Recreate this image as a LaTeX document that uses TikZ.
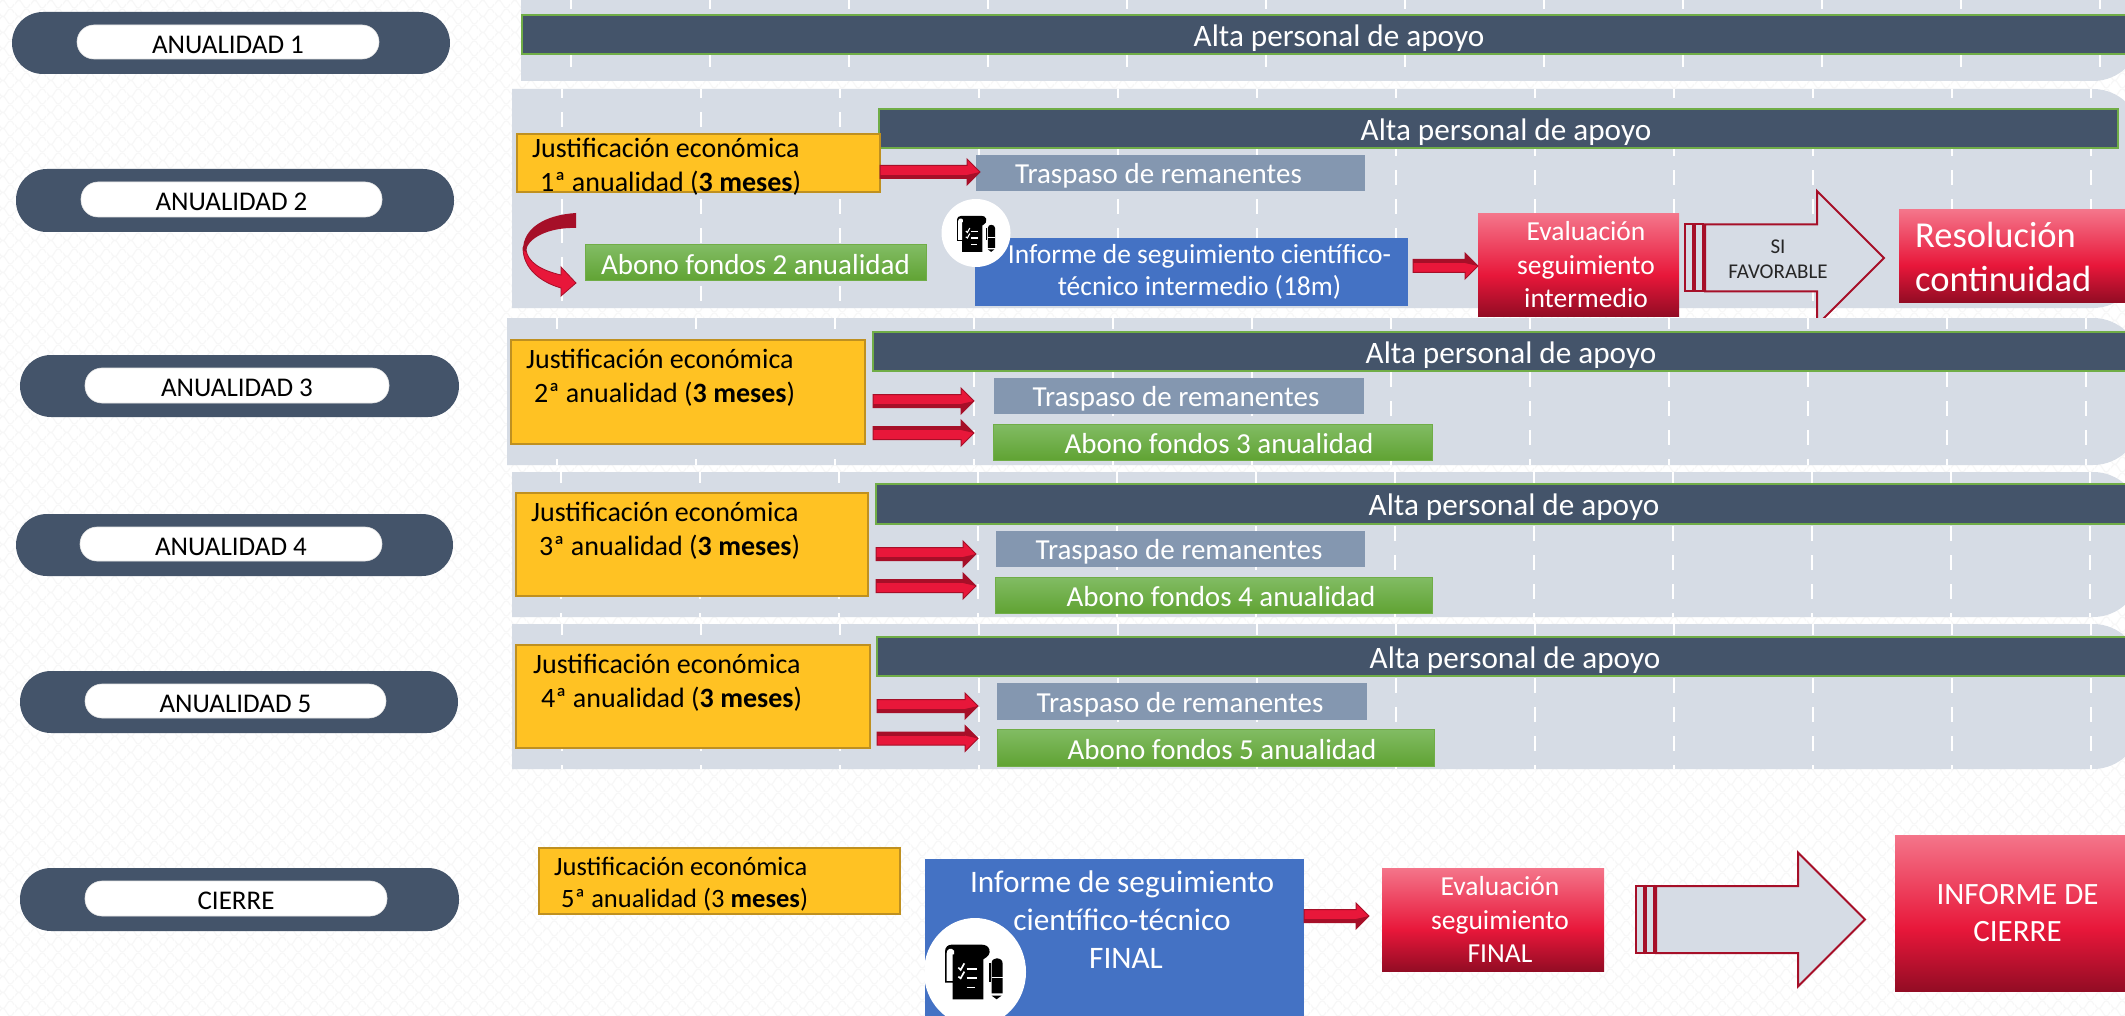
\documentclass[tikz,border=0pt]{standalone}
\usepackage{fontspec}
\setmainfont{Carlito}
\usetikzlibrary{calc,patterns}
\definecolor{slate}{HTML}{44546A}
\definecolor{bandc}{HTML}{D6DCE5}
\definecolor{gborder}{HTML}{70AD47}
\definecolor{ylw}{HTML}{FFC223}
\definecolor{ylwb}{HTML}{BF9020}
\definecolor{trasp}{HTML}{8497B0}
\definecolor{blu}{HTML}{4472C4}
\definecolor{rtop}{HTML}{F4758A}
\definecolor{rmid}{HTML}{E8173A}
\definecolor{rbot}{HTML}{930C24}
\definecolor{rdark}{HTML}{A60F28}
\definecolor{gtop}{HTML}{82BC64}
\definecolor{gbot}{HTML}{60A333}
\definecolor{texc}{HTML}{F7F7F7}
\pgfdeclareverticalshading{redgrad}{100bp}{color(0bp)=(rbot);color(25bp)=(rbot);color(45bp)=(rmid);color(75bp)=(rtop);color(100bp)=(rtop)}
\pgfdeclareverticalshading{greengrad}{100bp}{color(0bp)=(gbot);color(25bp)=(gbot);color(75bp)=(gtop);color(100bp)=(gtop)}
\newcommand\qp[2]{\pgfqpoint{#1pt}{#2pt}}
\pgfdeclarepatternformonly{scallop}{\qp{0}{0}}{\qp{16}{16}}{\qp{16}{16}}{%
  \pgfsetlinewidth{1.2pt}%
  \pgfpathmoveto{\qp{0}{4}}%
  \pgfpathcurveto{\qp{2}{7.1}}{\qp{2.5}{8}}{\qp{4}{8}}%
  \pgfpathcurveto{\qp{5.5}{8}}{\qp{6}{7.1}}{\qp{8}{4}}%
  \pgfpathcurveto{\qp{10}{.9}}{\qp{10.5}{0}}{\qp{12}{0}}%
  \pgfpathcurveto{\qp{13.5}{0}}{\qp{14}{.9}}{\qp{16}{4}}%
  \pgfpathmoveto{\qp{0}{12}}%
  \pgfpathcurveto{\qp{2}{8.9}}{\qp{2.5}{8}}{\qp{4}{8}}%
  \pgfpathcurveto{\qp{5.5}{8}}{\qp{6}{8.9}}{\qp{8}{12}}%
  \pgfpathcurveto{\qp{10}{15.1}}{\qp{10.5}{16}}{\qp{12}{16}}%
  \pgfpathcurveto{\qp{13.5}{16}}{\qp{14}{15.1}}{\qp{16}{12}}%
  \pgfusepath{stroke}%
}
\tikzset{
  x=1pt,y=-1pt,
  pillout/.style={fill=slate,rounded corners=31pt},
  pillin/.style={fill=white,draw=black!10,line width=.6pt,rounded corners=17pt,text=black,font={\fontsize{27}{30}\selectfont},execute at begin node={\rule{0pt}{22.5pt}}},
  altabar/.style={fill=slate,draw=gborder,line width=1.5pt,text=white,font={\fontsize{31.2}{36}\selectfont},execute at begin node={\rule{0pt}{29pt}}},
  yellowbox/.style={fill=ylw,draw=ylwb,line width=2pt},
  yellowtxt/.style={align=left,anchor=west,inner sep=0pt,text=black,font={\fontsize{28}{34}\selectfont}},
  traspbox/.style={fill=trasp,text=white,font={\fontsize{29}{34}\selectfont},execute at begin node={\rule{0pt}{26.5pt}}},
  greenbox/.style={shading=greengrad,draw=gborder,line width=1pt,text=white,font={\fontsize{29}{34}\selectfont},execute at begin node={\rule{0pt}{24pt}}},
  bluebox/.style={fill=blu,text=white,align=center,font={\fontsize{27.5}{32}\selectfont}},
  redbox/.style={shading=redgrad,text=white,align=center,font={\fontsize{27.5}{33.5}\selectfont}},
  dashw/.style={draw=white,line width=1.6pt,dash pattern=on 15pt off 14pt},
  redarrow/.style={fill=rmid,draw=rdark,line width=1pt,line join=miter},
  redstripe/.style={fill=rdark},
  stripearrow/.style={fill=bandc,draw=rdark,line width=2pt,line join=miter}
}
\newcommand\bx[7]{\node[#1,inner sep=0pt,outer sep=0pt,minimum width={(#5-#3)*1pt},minimum height={(#6-#4)*1pt}] (#2) at ({(#3+#5)/2},{(#4+#6)/2}) {#7};}
\newcommand\bandp[3]{\fill[bandc] (#1,#2) [rounded corners=48pt] -- (2141,#2) -- (2141,#3) [sharp corners] -- (#1,#3) -- cycle;}
\newcommand\banddash[4]{\foreach \k in {0,...,11}{\draw[dashw,dash phase=#4pt] ({#1+139*\k},#2) -- ({#1+139*\k},#3);}}
% block arrow: start anchor, offset, end anchor, offset, strip side
\newcommand\blockarr[5]{%
  \coordinate (ars) at ($(#1)+(#2)$);
  \coordinate (are0) at ($(#3)+(#4)$);
  \coordinate (are) at (are0 |- ars);
  \draw[redarrow] ([yshift=6.5pt]ars) -- ([yshift=6.5pt,xshift=-13pt]are) -- ([yshift=13pt,xshift=-13pt]are) -- (are) -- ([yshift=-13pt,xshift=-13pt]are) -- ([yshift=-6.5pt,xshift=-13pt]are) -- ([yshift=-6.5pt]ars) -- cycle;
  \fill[redstripe] ([yshift=#5*6.5pt]ars) rectangle ([yshift=#5*3pt,xshift=-13pt]are);
  \fill[redstripe] (are) -- ([yshift=#5*13pt,xshift=-13pt]are) -- ([yshift=#5*3pt,xshift=-13pt]are) -- cycle;
}
% striped block arrow
\newcommand\stripearr[5]{%
  \coordinate (ars) at ($(#1)+(#2)$);
  \coordinate (are0) at ($(#3)+(#4)$);
  \coordinate (are) at (are0 |- ars);
  \draw[stripearrow,fill=#5] ([yshift=33.5pt]ars) rectangle ([yshift=-33.5pt,xshift=8pt]ars);
  \draw[stripearrow,fill=#5] ([yshift=33.5pt,xshift=10pt]ars) rectangle ([yshift=-33.5pt,xshift=18pt]ars);
  \draw[stripearrow,fill=#5] ([yshift=33.5pt,xshift=20pt]ars) -- ([yshift=33.5pt,xshift=-67pt]are) -- ([yshift=67pt,xshift=-67pt]are) -- (are) -- ([yshift=-67pt,xshift=-67pt]are) -- ([yshift=-33.5pt,xshift=-67pt]are) -- ([yshift=-33.5pt,xshift=20pt]ars) -- cycle;
}
% document icon: x, y, scale
\newcommand\docicon[3]{%
\begin{scope}[shift={(#1,#2)},scale=#3]
  \fill[black] (23,163) -- (115,163) -- (115,43) .. controls (130,35) and (137,25) .. (133,13) .. controls (130,3) and (120,-1) .. (110,-1) -- (20,-1) .. controls (10,-1) and (0,5) .. (0,20) -- (0,113) -- (23,113) -- cycle;
  \fill[white] (5,108) -- (5,25) .. controls (5,10) and (20,7) .. (27,17) -- (27,28) -- (23,28) -- (23,108) -- cycle;
  \draw[white,line width={#3*5pt}] (40,68) -- (47,75) -- (58,55);
  \draw[white,line width={#3*5pt}] (40,95) -- (47,100) -- (58,80);
  \draw[white,line width={#3*5pt}] (65,72) -- (95,72) (65,100) -- (95,100) (65,128) -- (90,128);
  \fill[black] (140,145) -- (140,55) .. controls (140,45) and (147,40) .. (155,40) .. controls (165,40) and (173,45) .. (173,55) -- (173,145) -- cycle;
  \fill[black] (133,55) rectangle (137,110);
  \draw[white,line width={#3*4pt}] (140,98) -- (173,98);
  \fill[black] (140,152) -- (170,152) -- (155,163) -- cycle;
\end{scope}}
\begin{document}
\begin{tikzpicture}
\useasboundingbox (0,0) rectangle (2125,1016);
\clip (0,0) rectangle (2125,1016);
\fill[white] (0,0) rectangle (2125,1016);
% background texture
\fill[pattern=scallop,pattern color=texc] (0,0) rectangle (2125,1016);
% pills
\bx{pillout}{p1}{12}{12}{450}{74}{}
\bx{pillin}{p1i}{77}{25}{379}{59}{ANUALIDAD 1}
\bx{pillout}{p2}{16}{169}{454}{232}{}
\bx{pillin}{p2i}{81}{182}{382}{217}{ANUALIDAD 2}
\bx{pillout}{p3}{20}{355}{459}{417}{}
\bx{pillin}{p3i}{85}{368}{389}{403}{ANUALIDAD 3}
\bx{pillout}{p4}{16}{514}{453}{576}{}
\bx{pillin}{p4i}{80}{527}{382}{561}{ANUALIDAD 4}
\bx{pillout}{p5}{20}{671}{458}{733}{}
\bx{pillin}{p5i}{85}{684}{386}{718}{ANUALIDAD 5}
\bx{pillout}{p6}{20}{868}{459}{931}{}
\bx{pillin}{p6i}{85}{881}{387}{916}{CIERRE}
% bands 1 and 2
\bandp{521}{-60}{81}
\banddash{571}{0}{81}{6}
\bandp{512}{89}{308}
\banddash{562}{89}{308}{6}
% row 1
\bx{altabar}{a1}{522}{15}{2156}{54}{Alta personal de apoyo}
% row 2
\bx{altabar}{a2}{879}{109}{2118}{148}{\hspace*{15pt}Alta personal de apoyo}
\bx{yellowbox}{y1}{517}{134}{880}{192}{}
\node[yellowtxt] (y1t) at (532,167) {Justificación económica\\\hspace*{8pt}1ª anualidad (\textbf{3 meses})};
\bx{traspbox}{t2}{976}{155}{1365}{191}{Traspaso de remanentes\hspace*{24pt}}
\blockarr{y1.east}{0,9}{t2.west}{4,0}{-1}
% curved arrow
\bx{greenbox}{g2}{585}{245}{926}{281}{Abono fondos 2 anualidad}
\begin{scope}[shift={($(g2.west)-(585,263)$)}]
  \draw[fill=rmid,draw=rdark,line width=.8pt] (523,248) .. controls (523,268) and (540,282) .. (561,288) -- (561,296) -- (576,283) -- (561,267) -- (561,275) .. controls (540,270) and (528,262) .. (526,250) -- cycle;
  \fill[rdark] (576,213) .. controls (545,215) and (523,228) .. (523,250) -- (526,252) .. controls (526,238) and (550,227) .. (576,228) -- cycle;
\end{scope}
\bx{bluebox,execute at begin node={\rule{0pt}{24pt}}}{inf}{975}{238}{1408}{306}{\hspace*{16pt}Informe de seguimiento científico-\\\hspace*{16pt}técnico intermedio (18m)}
\fill[white] (976,233) ellipse [x radius=34.5,y radius=34];
\docicon{957}{216}{.22}
\bx{redbox,execute at begin node={\rule{0pt}{23pt}}}{ev}{1478}{214}{1679}{316}{\hspace*{15pt}Evaluación\\\hspace*{15pt}seguimiento\\\hspace*{15pt}intermedio}
\blockarr{inf.east}{5,-6}{ev.west}{0,0}{1}
\bx{redbox}{res}{1899}{210}{2140}{302}{}
\node[inner sep=0pt,anchor=west,align=left,text=white,font={\fontsize{36.5}{44}\selectfont}] (rest) at (1915,257) {Resolución\\continuidad};
\stripearr{ev.east}{6,-7}{res.west}{-15,0}{bandc}
\node[inner sep=0pt,align=center,text=black!85,font={\fontsize{21}{25}\selectfont}] (sifav) at (1778,259) {SI\\FAVORABLE};
% band 3
\bandp{507}{318}{465}
\banddash{557}{318}{465}{4}
\bx{altabar}{a3}{873}{332}{2149}{371}{Alta personal de apoyo}
\bx{yellowbox}{y2}{511}{340}{865}{444}{}
\node[yellowtxt] (y2t) at (526,378) {Justificación económica\\\hspace*{8pt}2ª anualidad (\textbf{3 meses})};
\bx{traspbox}{t3}{994}{378}{1364}{414}{Traspaso de remanentes\hspace*{6pt}}
\bx{greenbox}{g3}{993}{424}{1432}{460}{\hspace*{13pt}Abono fondos 3 anualidad}
\blockarr{y2.east}{8,9}{t3.west}{-20,0}{-1}
\blockarr{y2.east}{8,41}{g3.west}{-19,0}{1}
% band 4
\bandp{512}{472}{617}
\banddash{561}{472}{617}{4}
\bx{altabar}{a4}{876}{484}{2152}{524}{Alta personal de apoyo}
\bx{yellowbox}{y3}{516}{493}{868}{596}{}
\node[yellowtxt] (y3t) at (531,531) {Justificación económica\\\hspace*{8pt}3ª anualidad (\textbf{3 meses})};
\bx{traspbox}{t4}{996}{531}{1365}{567}{Traspaso de remanentes\hspace*{3pt}}
\bx{greenbox}{g4}{995}{577}{1432}{613}{\hspace*{15pt}Abono fondos 4 anualidad}
\blockarr{y3.east}{8,9.5}{t4.west}{-20,0}{-1}
\blockarr{y3.east}{8,41.5}{g4.west}{-19,0}{1}
% band 5
\bandp{512}{624}{769}
\banddash{562}{624}{769}{4}
\bx{altabar}{a5}{877}{637}{2153}{676}{Alta personal de apoyo}
\bx{yellowbox}{y4}{516}{645}{870}{748}{}
\node[yellowtxt] (y4t) at (533,683) {Justificación económica\\\hspace*{8pt}4ª anualidad (\textbf{3 meses})};
\bx{traspbox}{t5}{997}{683}{1367}{720}{Traspaso de remanentes\hspace*{4pt}}
\bx{greenbox}{g5}{997}{729}{1434}{766}{\hspace*{13pt}Abono fondos 5 anualidad}
\blockarr{y4.east}{7,9.5}{t5.west}{-19,0}{-1}
\blockarr{y4.east}{7,42}{g5.west}{-19,0}{1}
% closing row
\bx{yellowbox}{y5}{539}{848}{900}{914}{}
\node[yellowtxt,font={\fontsize{26.5}{32}\selectfont}] (y5t) at (554,884) {Justificación económica\\\hspace*{7pt}5ª anualidad (3 \textbf{meses})};
\bx{bluebox}{infF}{925}{859}{1304}{1020}{}
\begin{scope}
  \clip (925,859) rectangle (1304,1016);
  \fill[white] (975,972) ellipse [x radius=51,y radius=54];
\end{scope}
\docicon{945}{945}{.333}
\node[inner sep=0pt,align=center,text=white,font={\fontsize{31.3}{38}\selectfont}] (infFt) at (1122,920) {Informe de seguimiento\\científico-técnico\\\hspace*{8pt}FINAL};
\bx{redbox}{evF}{1382}{868}{1604}{971}{\hspace*{14pt}Evaluación\\\hspace*{14pt}seguimiento\\\hspace*{14pt}FINAL}
\blockarr{infF.east}{0,-23.5}{evF.west}{-13,0}{-1}
\bx{redbox,font={\fontsize{31}{37}\selectfont}}{infC}{1895}{835}{2140}{991}{INFORME DE\\CIERRE}
\stripearr{evF.east}{32,0}{infC.west}{-30,0}{bandc}
\end{tikzpicture}
\end{document}
